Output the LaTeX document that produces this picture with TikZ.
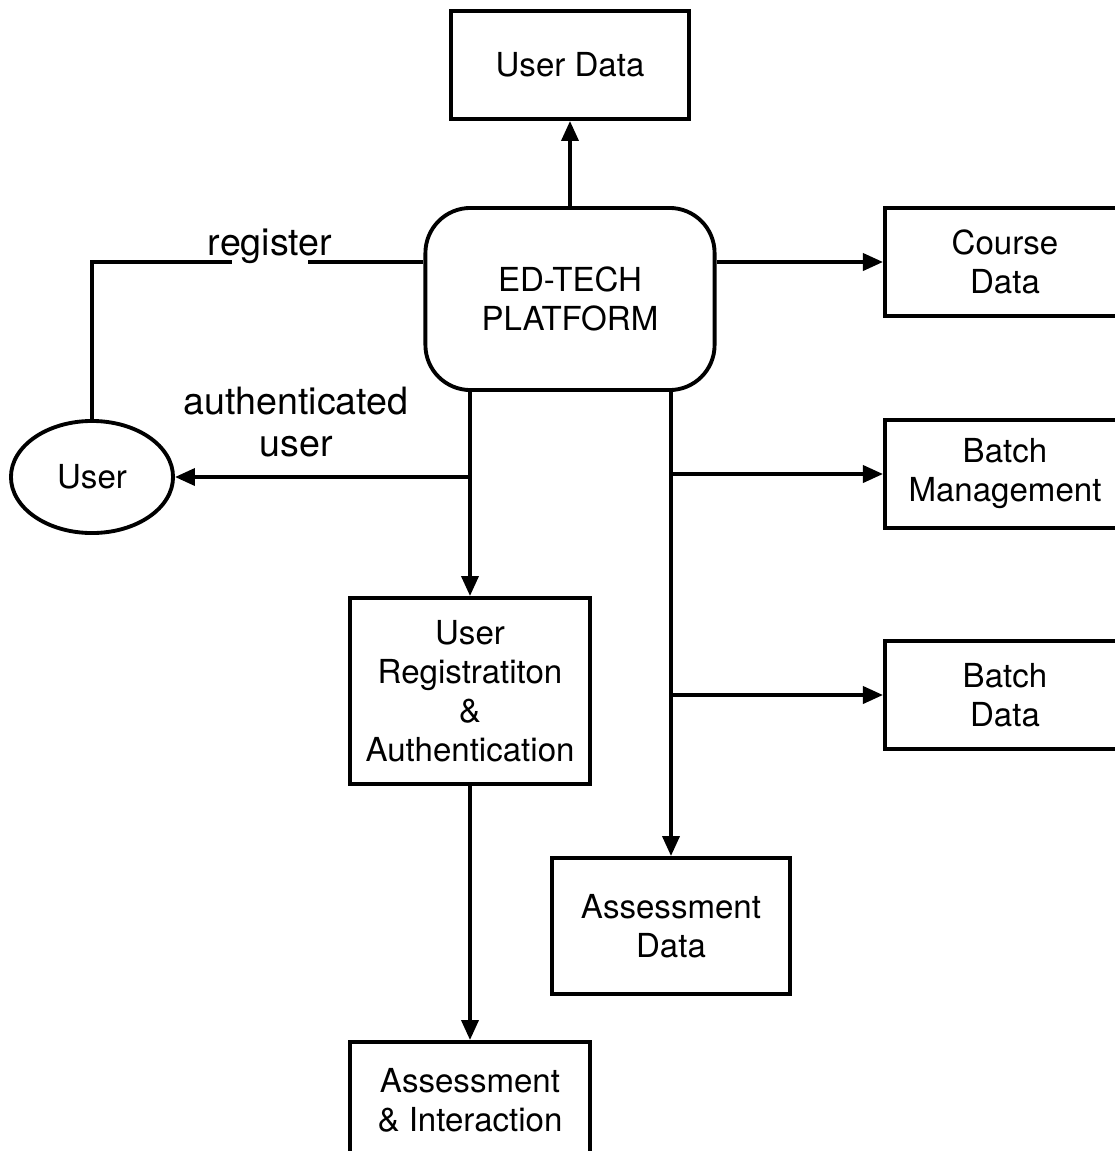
\documentclass[tikz,border=0pt]{standalone}
\usepackage{fontspec}
\setmainfont{TeX Gyre Heros}
\usetikzlibrary{arrows.meta,shapes.geometric}
\tikzset {
  flow line/.style = {
    line width=1.05pt
  },
  flow arrow/.style = {
    flow line,
    -{Triangle[length=2mm, width=1.7mm]}
  },
  store box/.style = {
    draw,
    line width=1.1pt,
    align=center,
    inner sep=0pt,
    font=\fontsize{9.4}{11.1}\selectfont,
    minimum width=2.4cm,
    minimum height=1.08cm
  },
  platform box/.style = {
    store box,
    rounded corners=0.45cm,
    minimum width=2.89cm,
    minimum height=1.82cm
  },
  actor/.style = {
    store box,
    ellipse,
    minimum width=1.62cm,
    minimum height=1.12cm
  },
  flow label/.style = {
    align=center,
    inner sep=1pt,
    font=\fontsize{10.7}{12}\selectfont
  }
}

\begin{document}
\begin{tikzpicture}[x=0.01cm, y=-0.01cm]

\useasboundingbox (0,0) rectangle (1115,1151);

% --- Nodes ---
\node[platform box] (platform) at (570, 299) {ED-TECH\\PLATFORM};
\node[store box, minimum width=2.38cm] (userdata) at (570, 65) {User Data};
\node[store box] (course) at (1005, 262) {Course\\Data};
\node[store box] (batchmgmt) at (1005, 474) {Batch\\Management};
\node[store box] (batchdata) at (1005, 695) {Batch\\Data};
\node[store box, minimum width=2.38cm, minimum height=1.36cm]
  (assessdata) at (671, 926) {Assessment\\Data};
\node[store box, minimum height=1.86cm]
  (userreg) at (470, 691) {User\\Registratiton\\\&\\Authentication};
\node[store box, minimum height=1.16cm]
  (assessint) at (470, 1100) {Assessment\\\& Interaction};
\node[actor] (user) at (92, 477) {User};

% --- Flows ---
\draw[flow arrow] (platform) -- (userdata);
\draw[flow arrow] (platform.east |- course) -- (course.west);
\draw[flow arrow] (platform.south -| assessdata.north) -- (assessdata.north);
\draw[flow arrow] (assessdata.north |- batchmgmt) -- (batchmgmt.west);
\draw[flow arrow] (assessdata.north |- batchdata) -- (batchdata.west);
\draw[flow arrow] (platform.south -| userreg.north) -- (userreg.north);
\draw[flow arrow] (userreg.north |- user) -- (user.east);
\draw[flow arrow] (userreg) -- (assessint.north);
\draw[flow line] (platform.west |- course) -| (user.north);

% --- Labels ---
\node[flow label, anchor=base, fill=white, inner xsep=-2.4mm] (reglabel)
  at (270, 255) {register};
\node[flow label] (authlabel) at (296, 422) {authenticated\\user};

\end{tikzpicture}
\end{document}
